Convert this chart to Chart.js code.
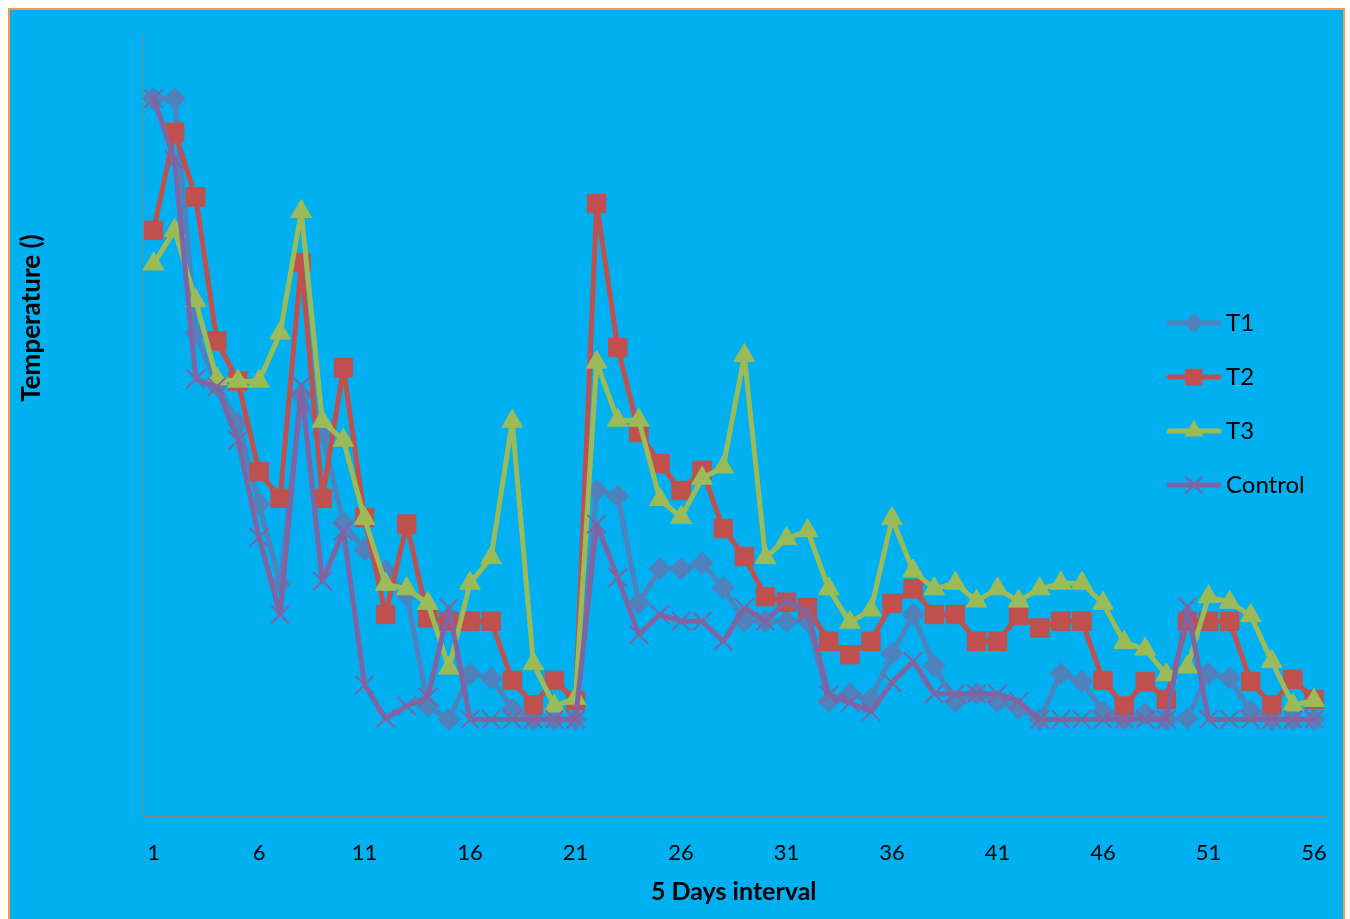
<!DOCTYPE html>
<html>
<head>
<meta charset="utf-8">
<script src="https://cdn.jsdelivr.net/npm/chart.js@4.4.1/dist/chart.umd.min.js"></script>
<style>
html,body{margin:0;padding:0;background:#ffffff;width:1350px;height:919px;overflow:hidden}
#frame{position:absolute;left:8px;top:8px;width:1333px;height:930px;border:2px solid #F79646;background:#00B0F0}
#wrap{position:absolute;left:0;top:0;width:1350px;height:919px}
</style>
</head>
<body>
<div id="frame"></div>
<div id="wrap"><canvas id="c" width="1350" height="919"></canvas></div>
<script>
// ---- data ----
const days = ['1','2','3','4','5','6','7','8','9','10','11','12','13','14','15','16','17','18','19','20',
  '21','22','23','24','25','26','27','28','29','30','31','32','33','34','35','36','37','38','39','40',
  '41','42','43','44','45','46','47','48','49','50','51','52','53','54','55','56'];
const t1 = [64.3,64.3,43.3,38.6,35.3,28.0,20.9,37.7,34.3,26.3,
  23.9,22.0,19.9,9.9,8.7,12.8,12.4,9.6,8.7,8.7,
  8.7,29.2,28.7,19.1,22.2,22.2,22.7,20.5,17.5,17.5,
  17.5,17.5,10.3,11.0,10.5,14.6,18.1,13.5,10.3,11.0,
  10.3,9.7,8.7,12.8,12.1,9.4,8.7,9.2,8.7,8.8,
  12.8,12.4,9.4,8.7,8.7,8.7];
const t2 = [52.5,61.3,55.5,42.6,39.0,30.9,28.5,49.6,28.5,40.2,
  26.8,18.1,26.2,17.8,17.5,17.5,17.5,12.2,10.0,12.2,
  10.4,54.9,42.0,34.4,31.6,29.2,31.0,25.8,23.3,19.7,
  19.2,18.7,15.7,14.5,15.7,19.1,20.4,18.1,18.1,15.7,
  15.7,18.0,16.9,17.5,17.5,12.2,9.9,12.1,10.5,17.5,
  17.5,17.5,12.1,10.0,12.3,10.5];
const t3 = [49.5,52.5,46.2,39.2,39.0,39.0,43.3,54.2,35.4,33.7,
  26.7,20.8,20.4,19.1,13.3,20.9,23.2,35.4,13.7,9.9,
  10.6,40.7,35.5,35.5,28.4,26.8,30.3,31.3,41.3,23.2,
  24.9,25.6,20.4,17.4,18.5,26.7,22.0,20.4,20.9,19.3,
  20.4,19.3,20.4,20.9,20.9,19.1,15.6,15.0,12.7,13.4,
  19.7,19.2,18.0,13.9,10.0,10.4];
const control = [64.3,58.8,39.2,38.5,33.7,25.0,18.1,38.6,21.1,25.6,
  11.8,8.8,9.9,10.7,18.7,8.7,8.7,8.7,8.7,8.7,
  8.7,26.2,21.4,16.3,18.1,17.5,17.5,15.7,18.7,17.5,
  19.3,18.3,10.9,10.2,9.4,12.0,13.9,11.0,11.0,11.0,
  11.0,10.3,8.7,8.7,8.7,8.7,8.7,8.7,8.7,18.8,
  8.7,8.7,8.7,8.7,8.7,8.7];
const seriesNames = ['T1','T2','T3','Control'];
const xTitle = '5 Days interval';
const yTitle = 'Temperature ()';

// ---- styles ----
const colors = ['#4F81BD','#C0504D','#9BBB59','#8064A2'];
const styles = [
  {pointStyle:'rectRot', radius:11, bw:1},
  {pointStyle:'rect', radius:13, bw:1},
  {pointStyle:'triangle', radius:12, bw:1},
  {pointStyle:'crossRot', radius:13, bw:2}
];
const FONT = 'Lato';

function makeIcon(i){
  const cv = document.createElement('canvas');
  cv.width = 56; cv.height = 28;
  const ctx = cv.getContext('2d');
  ctx.strokeStyle = colors[i];
  ctx.lineWidth = 5;
  ctx.lineCap = 'round';
  ctx.beginPath(); ctx.moveTo(3,14); ctx.lineTo(53,14); ctx.stroke();
  ctx.fillStyle = colors[i];
  ctx.strokeStyle = colors[i];
  ctx.lineWidth = styles[i].bw;
  const s = styles[i];
  if (Chart.helpers && Chart.helpers.drawPoint) {
    Chart.helpers.drawPoint(ctx, {pointStyle:s.pointStyle, radius:s.radius*0.85, borderWidth:s.bw, rotation:0}, 28, 14);
  }
  return cv;
}

const allData = [t1,t2,t3,control];
const datasets = allData.map((d,i)=>({
  label: seriesNames[i],
  data: d,
  borderColor: colors[i],
  backgroundColor: colors[i],
  borderWidth: 5,
  borderJoinStyle: 'round',
  borderCapStyle: 'round',
  tension: 0,
  pointStyle: styles[i].pointStyle,
  pointRadius: styles[i].radius,
  pointBorderWidth: styles[i].bw,
  pointBackgroundColor: colors[i],
  pointBorderColor: colors[i],
  order: 4 - i
}));

const legendPlace = {
  id:'legendPlace',
  afterLayout(chart){
    const lg = chart.legend;
    if(!lg) return;
    lg.left = 1144; lg.top = 281; lg.width = 200; lg.height = 300;
    lg.right = lg.left + lg.width; lg.bottom = lg.top + lg.height;
  }
};
const yTitlePlugin = {
  id:'yTitlePlugin',
  afterDraw(chart){
    const ctx = chart.ctx;
    ctx.save();
    ctx.translate(32, 318);
    ctx.rotate(-Math.PI/2);
    ctx.font = 'bold 26px ' + FONT;
    ctx.fillStyle = '#000';
    ctx.textAlign = 'center';
    ctx.textBaseline = 'middle';
    ctx.fillText(yTitle, 0, 0);
    ctx.restore();
  }
};

let icons = null;
new Chart(document.getElementById('c'), {
  type: 'line',
  data: { labels: days, datasets },
  plugins: [legendPlace, yTitlePlugin],
  options: {
    responsive: false,
    animation: false,
    layout: { padding: { left: 143, right: 25, top: 35, bottom: 12 } },
    plugins: {
      tooltip: { enabled: false },
      legend: {
        position: 'chartArea',
        align: 'start',
        labels: {
          usePointStyle: true,
          pointStyleWidth: 40,
          padding: 30,
          color: '#000',
          font: { family: FONT, size: 24 },
          sort: (a,b) => a.datasetIndex - b.datasetIndex,
          generateLabels(chart){
            if(!icons) icons = [0,1,2,3].map(makeIcon);
            const items = Chart.defaults.plugins.legend.labels.generateLabels(chart);
            items.forEach(it => { it.pointStyle = icons[it.datasetIndex]; it.fontColor = '#000'; });
            return items;
          }
        }
      }
    },
    scales: {
      x: {
        type: 'category',
        offset: true,
        grid: { display: false, drawTicks: false },
        border: { display: true, color: '#868686', width: 1 },
        ticks: {
          autoSkip: false, maxRotation: 0, minRotation: 0, padding: 23,
          color: '#000', font: { family: FONT, size: 22 },
          callback: (v, i) => (i % 5 === 0 ? days[i] : '')
        },
        title: {
          display: true, text: xTitle, color: '#000',
          font: { family: FONT, size: 25, weight: 'bold' },
          padding: { top: -12, bottom: 0 }
        }
      },
      y: {
        min: 0, max: 70,
        ticks: { display: false },
        grid: { display: false, drawTicks: false },
        border: { display: true, color: '#868686', width: 1 }
      }
    }
  }
});
</script>
</body>
</html>
